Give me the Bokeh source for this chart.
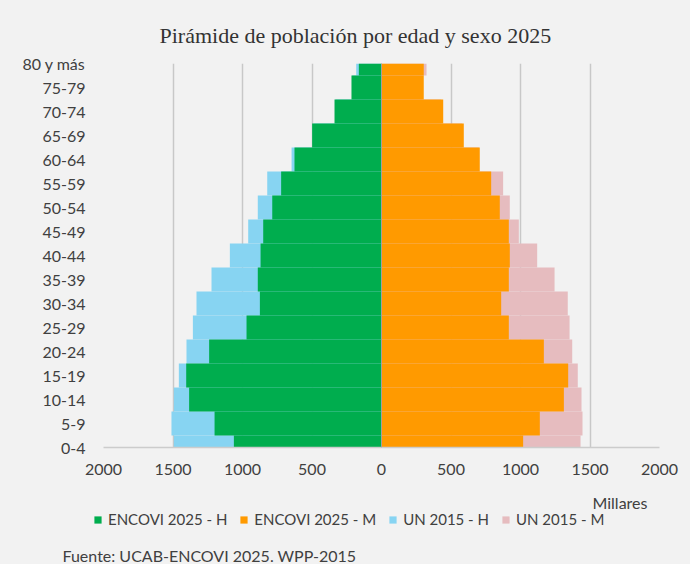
from bokeh.plotting import figure
from bokeh.layouts import column
from bokeh.models import (Range1d, FixedTicker, Legend, LegendItem, Span, Label,
                          ColumnDataSource)
from bokeh.embed import file_html
from bokeh.resources import INLINE

# ---- data (thousands) ----
ages = ["0-4", "5-9", "10-14", "15-19", "20-24", "25-29", "30-34", "35-39",
        "40-44", "45-49", "50-54", "55-59", "60-64", "65-69", "70-74", "75-79",
        "80 y más"]
encovi_h = [1062, 1201, 1384, 1405, 1240, 971, 875, 890, 870, 851, 786, 722,
            626, 499, 338, 216, 163]
encovi_m = [1019, 1139, 1312, 1343, 1168, 916, 861, 916, 923, 916, 851, 789,
            707, 592, 444, 304, 304]
un_h = [1494, 1511, 1494, 1458, 1403, 1357, 1331, 1223, 1091, 959, 890, 822,
        647, 490, 330, 210, 182]
un_m = [1432, 1446, 1439, 1412, 1372, 1353, 1340, 1245, 1120, 988, 923, 875,
        700, 580, 430, 295, 324]
x_ticks = [-2000, -1500, -1000, -500, 0, 500, 1000, 1500, 2000]

title_text = "Pirámide de población por edad y sexo  2025"
source_text = "Fuente: UCAB-ENCOVI 2025. WPP-2015"
unit_text = "Millares"
series_names = ["ENCOVI 2025 - H", "ENCOVI 2025 - M", "UN 2015 - H", "UN 2015 - M"]

GREEN = "#00ad4e"
ORANGE = "#ff9a00"
BLUE = "#87d4f2"
PINK = "#e6bcbf"
BG = "#f2f2f2"
TXT = "#404040"
FONT = "Lato"

W = 690
H_MAIN = 490
H_FOOT = 74

pos = list(range(len(ages)))
src = ColumnDataSource(dict(
    y=pos,
    eh=[-v for v in encovi_h], em=encovi_m,
    uh=[-v for v in un_h], um=un_m,
))

p = figure(width=W, height=H_MAIN, output_backend="svg", toolbar_location=None,
           x_range=Range1d(-2000, 2000), y_range=Range1d(0, len(ages) - 1),
           min_border_left=103, min_border_right=31, min_border_top=63,
           min_border_bottom=H_MAIN - 447)
p.background_fill_color = BG
p.border_fill_color = BG
p.outline_line_color = None

p.title.text = title_text
p.title.align = "left"
p.title.offset = 56
p.title.text_font = "Liberation Serif"
p.title.text_font_size = "22px"
p.title.text_font_style = "normal"
p.title.text_color = "#333333"
p.title.standoff = 31

p.hbar(y="y", left="uh", right=0, height=1, source=src,
       fill_color=BLUE, line_color=None)
p.hbar(y="y", left=0, right="um", height=1, source=src,
       fill_color=PINK, line_color=None)
p.hbar(y="y", left="eh", right=0, height=1, source=src,
       fill_color=GREEN, line_color=None)
p.hbar(y="y", left=0, right="em", height=1, source=src,
       fill_color=ORANGE, line_color=None)

p.add_layout(Span(location=0, dimension="height", line_color="#a0a0a0",
                  line_width=1))

# axes
p.xaxis.ticker = FixedTicker(ticks=x_ticks)
p.xaxis.major_label_overrides = {t: str(abs(t)) for t in x_ticks}
p.xaxis.major_tick_line_color = None
p.xaxis.minor_tick_line_color = None
p.xaxis.axis_line_color = "#cccccc"
p.xaxis.axis_line_width = 1.5
p.xaxis.major_label_standoff = 10
p.xaxis.major_label_text_font = FONT
p.xaxis.major_label_text_font_size = "16px"
p.xaxis.major_label_text_color = TXT

p.yaxis.ticker = FixedTicker(ticks=pos)
p.yaxis.major_label_overrides = {i: a for i, a in enumerate(ages)}
p.yaxis.major_tick_line_color = None
p.yaxis.minor_tick_line_color = None
p.yaxis.axis_line_color = None
p.yaxis.major_label_standoff = 12
p.yaxis.major_label_text_font = FONT
p.yaxis.major_label_text_font_size = "16px"
p.yaxis.major_label_text_color = TXT

p.xgrid.ticker = FixedTicker(ticks=x_ticks)
p.xgrid.grid_line_color = "#c8c8c8"
p.xgrid.grid_line_width = 1.5
p.ygrid.grid_line_color = None

# ---- footer strip: unit, legend, source (pixel coordinates) ----
f = figure(width=W, height=H_FOOT, output_backend="svg", toolbar_location=None,
           x_range=Range1d(0, W), y_range=Range1d(0, H_FOOT),
           x_axis_location=None, y_axis_location=None,
           min_border_left=0, min_border_right=0, min_border_top=0,
           min_border_bottom=0)
if "frame_align" in f.properties():
    f.frame_align = False
    p.frame_align = False
f.background_fill_color = BG
f.border_fill_color = BG
f.outline_line_color = None
f.grid.visible = False

# legend-only swatches, kept outside the visible strip
colors = [GREEN, ORANGE, BLUE, PINK]
swatches = [f.hbar(y=[-100], left=[0], right=[1], height=1, fill_color=c,
                   line_color=None) for c in colors]

f.add_layout(Label(x=592, y=H_FOOT - 12, text=unit_text, text_align="left",
                   text_baseline="middle", text_font=FONT,
                   text_font_size="16px", text_color=TXT))
f.add_layout(Label(x=62, y=H_FOOT - 65, text=source_text, text_align="left",
                   text_baseline="middle", text_font=FONT,
                   text_font_size="16px", text_color=TXT))

legend = Legend(items=[LegendItem(label=n, renderers=[r])
                       for n, r in zip(series_names, swatches)],
                orientation="horizontal", location=(93, H_FOOT - 38))
legend.glyph_width = 9
legend.glyph_height = 9
legend.label_standoff = 6
legend.spacing = 12
legend.padding = 0
legend.margin = 0
legend.label_height = 16
legend.label_text_font = FONT
legend.label_text_font_size = "15px"
legend.label_text_color = TXT
legend.background_fill_alpha = 0
legend.border_line_color = None
f.add_layout(legend, "center")

layout = column(p, f, spacing=0, styles={"background-color": BG})
open("out.html", "w").write(file_html(layout, INLINE))
